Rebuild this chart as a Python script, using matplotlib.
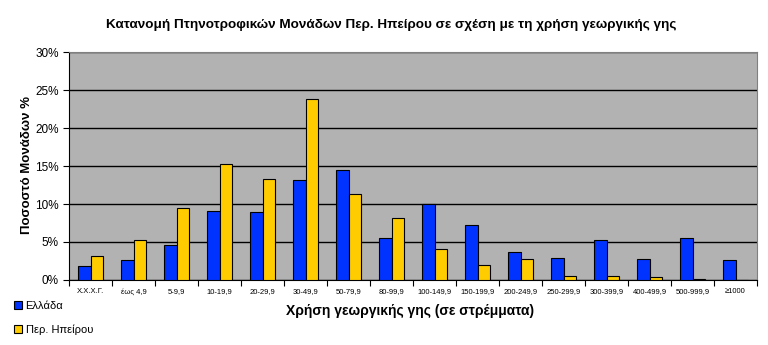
import matplotlib
matplotlib.use("Agg")
import matplotlib.pyplot as plt
import numpy as np
from matplotlib.ticker import FuncFormatter

plt.rcParams['font.family'] = ['Liberation Sans', 'DejaVu Sans']

categories = ['Χ.Χ.Χ.Γ.', 'έως 4,9', '5-9,9', '10-19,9', '20-29,9', '30-49,9',
              '50-79,9', '80-99,9', '100-149,9', '150-199,9', '200-249,9',
              '250-299,9', '300-399,9', '400-499,9', '500-999,9', '≥1000']
ellada = [1.84, 2.63, 4.64, 9.08, 8.95, 13.2, 14.5, 5.5,
          10.0, 7.24, 3.68, 2.89, 5.26, 2.76, 5.53, 2.63]
ipeiros = [3.16, 5.26, 9.47, 15.26, 13.29, 23.8, 11.3, 8.16,
           4.08, 1.97, 2.76, 0.53, 0.53, 0.39, 0.13, 0.0]

blue = '#0033FF'
yellow = '#FFCC00'

fig = plt.figure(figsize=(7.68, 3.45), dpi=100)
ax = fig.add_axes([69/768, 65/345, 688/768, 228/345])
ax.set_facecolor('#B2B2B2')

x = np.arange(len(categories))
w = 0.285
ax.bar(x - w/2, ellada, w, color=blue, edgecolor='black', linewidth=0.8, zorder=3, label='Ελλάδα')
ax.bar(x + w/2, ipeiros, w, color=yellow, edgecolor='black', linewidth=0.8, zorder=3, label='Περ. Ηπείρου')

ax.set_xlim(-0.5, len(categories) - 0.5)
ax.set_ylim(0, 30)
ax.set_yticks(range(0, 31, 5))
ax.yaxis.set_major_formatter(FuncFormatter(lambda v, p: f'{int(v)}%'))
ax.grid(axis='y', color='black', linewidth=1, zorder=1)
ax.set_xticks(x)
ax.set_xticklabels(categories, fontsize=5.5)
ax.set_xticks(np.arange(-0.5, len(categories), 1), minor=True)
ax.tick_params(axis='x', which='major', length=0, pad=6)
ax.tick_params(axis='x', which='minor', length=4, width=0.8, direction='out')
ax.tick_params(axis='y', labelsize=8.5, length=4, width=0.8, direction='out')

for side in ['top', 'right']:
    ax.spines[side].set_color('#808080')
for side in ['left', 'bottom']:
    ax.spines[side].set_color('black')

fig.text(391, 345 - 25, 'Κατανομή Πτηνοτροφικών Μονάδων Περ. Ηπείρου σε σχέση με τη χρήση γεωργικής γης',
         transform=None, ha='center', va='center', fontsize=9.7, fontweight='bold')
fig.text(410, 345 - 311, 'Χρήση γεωργικής γης (σε στρέμματα)', transform=None,
         ha='center', va='center', fontsize=10, fontweight='bold')
fig.text(27, 345 - 165, 'Ποσοστό Μονάδων %', transform=None, rotation=90,
         ha='center', va='center', fontsize=9.5, fontweight='bold')

ax.legend(loc='lower left', bbox_to_anchor=(10/768, 6/345), bbox_transform=fig.transFigure,
          frameon=False, fontsize=8, handlelength=0.7, handleheight=0.7,
          handletextpad=0.3, labelspacing=1.2, borderaxespad=0)

fig.savefig('out.png', dpi=100)
